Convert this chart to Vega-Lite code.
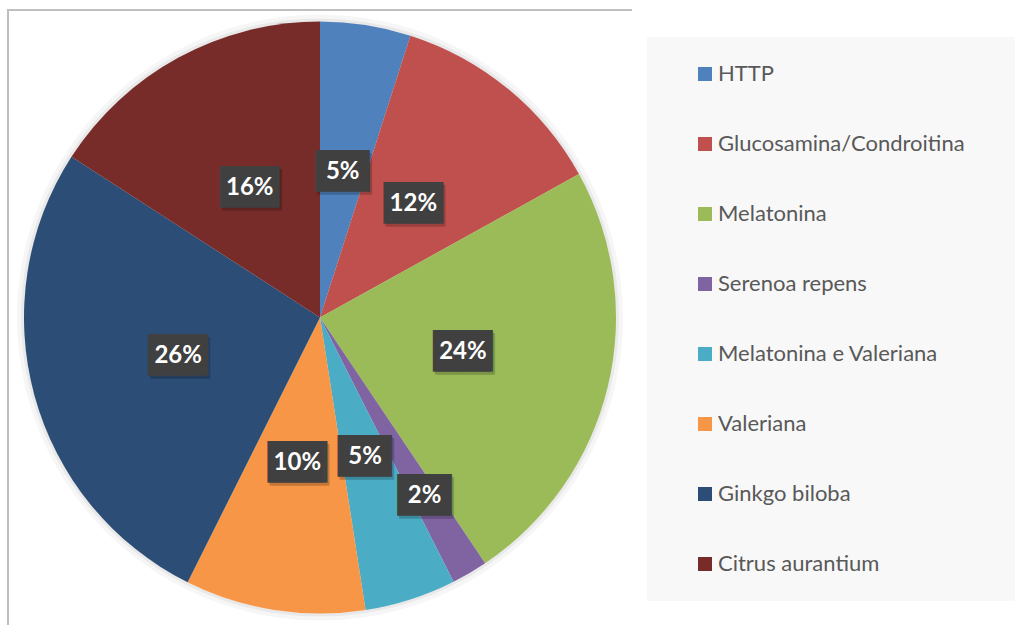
{
  "$schema": "https://vega.github.io/schema/vega-lite/v6.json",
  "width": 624,
  "height": 615,
  "autosize": {"type": "none"},
  "padding": {"left": 8, "top": 10, "right": 383, "bottom": 0},
  "background": "white",
  "view": {"stroke": "#BFBFBF", "strokeWidth": 2, "strokeDash": [624, 1239, 615, 2000]},
  "data": {
    "values": [
      {"k": 1, "cat": "HTTP", "share": 4.94, "label": "5%"},
      {"k": 2, "cat": "Glucosamina/Condroitina", "share": 12.01, "label": "12%"},
      {"k": 3, "cat": "Melatonina", "share": 23.63, "label": "24%"},
      {"k": 4, "cat": "Serenoa repens", "share": 1.97, "label": "2%"},
      {"k": 5, "cat": "Melatonina e Valeriana", "share": 4.99, "label": "5%"},
      {"k": 6, "cat": "Valeriana", "share": 9.84, "label": "10%"},
      {"k": 7, "cat": "Ginkgo biloba", "share": 26.76, "label": "26%"},
      {"k": 8, "cat": "Citrus aurantium", "share": 15.86, "label": "16%"}
    ]
  },
  "encoding": {
    "theta": {"field": "share", "type": "quantitative", "stack": true},
    "order": {"field": "k", "type": "quantitative"}
  },
  "layer": [
    {
      "mark": {"type": "arc", "outerRadius": 303, "color": "#000000", "opacity": 0.035},
      "encoding": {"detail": {"field": "cat"}}
    },
    {
      "mark": {"type": "arc", "outerRadius": 299, "color": "#000000", "opacity": 0.05},
      "encoding": {"detail": {"field": "cat"}}
    },
    {
      "mark": {"type": "arc", "outerRadius": 296},
      "encoding": {
        "color": {
          "field": "cat",
          "type": "nominal",
          "scale": {
            "domain": ["HTTP", "Glucosamina/Condroitina", "Melatonina", "Serenoa repens", "Melatonina e Valeriana", "Valeriana", "Ginkgo biloba", "Citrus aurantium"],
            "range": ["#4F81BD", "#C0504D", "#9BBB59", "#8064A2", "#4BACC6", "#F79646", "#2C4D75", "#772C2A"]
          },
          "legend": {
            "orient": "none",
            "legendX": 639,
            "legendY": 27,
            "title": " ",
            "titleOrient": "right",
            "titlePadding": 30,
            "fillColor": "#F8F8F8",
            "padding": 26,
            "symbolOffset": 21,
            "symbolType": "square",
            "symbolSize": 196,
            "symbolStrokeWidth": 0,
            "labelFont": "Lato",
            "labelFontSize": 22,
            "labelColor": "#595959",
            "labelOffset": 2,
            "labelLimit": 400,
            "rowPadding": 48
          }
        }
      }
    },
    {
      "mark": {"type": "text", "font": "DejaVu Sans", "fontSize": 35, "color": "#000000", "opacity": 0.2, "baseline": "middle", "dx": 2, "dy": 3, "radius": {"expr": "datum.cat === 'Serenoa repens' ? 207 : 147"}},
      "encoding": {
        "detail": {"field": "cat"},
        "text": {"condition": {"test": "length(datum.label) < 3", "value": "██"}, "value": "▕██▏"}
      }
    },
    {
      "mark": {"type": "text", "font": "DejaVu Sans", "fontSize": 35, "color": "#404040", "baseline": "middle", "radius": {"expr": "datum.cat === 'Serenoa repens' ? 207 : 147"}},
      "encoding": {
        "detail": {"field": "cat"},
        "text": {"condition": {"test": "length(datum.label) < 3", "value": "██"}, "value": "▕██▏"}
      }
    },
    {
      "mark": {"type": "text", "font": "Lato", "fontWeight": "bold", "fontSize": 24, "color": "#FFFFFF", "baseline": "middle", "radius": {"expr": "datum.cat === 'Serenoa repens' ? 207 : 147"}},
      "encoding": {
        "detail": {"field": "cat"},
        "text": {"field": "label"}
      }
    }
  ]
}
